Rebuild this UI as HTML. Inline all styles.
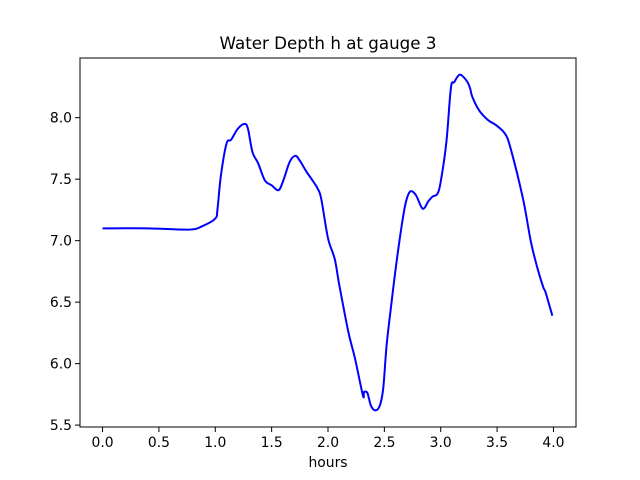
<!DOCTYPE html>
<html><head><meta charset="utf-8"><style>
body{margin:0;background:#fff;}
svg{display:block;font-family:"DejaVu Sans","Liberation Sans",sans-serif;}
</style></head><body>
<svg id="chart" width="640" height="480">
<rect width="640" height="480" fill="#fff"/>
<text x="328" y="49" font-size="16.7" text-anchor="middle">Water Depth h at gauge 3</text>
<g id="xticks"></g>
<g id="yticks"></g>
<path id="line" fill="none" stroke="#0000ff" stroke-width="2" stroke-linejoin="round"/>
<rect x="80" y="58" width="496" height="369" fill="none" stroke="#000" stroke-width="1"/>
<text x="328" y="467" font-size="13.9" text-anchor="middle">hours</text>
</svg>
<script>
const hours=[0,0.4,0.77,0.89,1.0,1.02,1.05,1.10,1.14,1.20,1.26,1.29,1.33,1.38,1.44,1.50,1.56,1.60,1.66,1.71,1.75,1.81,1.87,1.91,1.94,2.00,2.06,2.10,2.18,2.24,2.31,2.32,2.35,2.38,2.42,2.46,2.49,2.52,2.56,2.60,2.65,2.69,2.73,2.78,2.84,2.89,2.93,2.97,3.00,3.05,3.09,3.12,3.17,3.23,3.26,3.28,3.34,3.42,3.49,3.57,3.62,3.73,3.80,3.86,3.91,3.93,3.99];
const depth=[7.10,7.10,7.09,7.12,7.18,7.26,7.53,7.79,7.82,7.91,7.95,7.91,7.72,7.63,7.49,7.45,7.41,7.48,7.64,7.69,7.65,7.56,7.48,7.42,7.34,7.02,6.85,6.64,6.26,6.04,5.74,5.77,5.76,5.66,5.62,5.66,5.80,6.15,6.47,6.77,7.10,7.31,7.40,7.37,7.26,7.32,7.36,7.38,7.48,7.80,8.24,8.29,8.35,8.30,8.24,8.17,8.06,7.98,7.94,7.87,7.75,7.34,6.99,6.77,6.62,6.58,6.39];
const xTicks=[0.0,0.5,1.0,1.5,2.0,2.5,3.0,3.5,4.0];
const yTicks=[5.5,6.0,6.5,7.0,7.5,8.0];
const X0=80,X1=576,Y0=427,Y1=58,xmin=-0.2,xmax=4.2,ymin=5.4845,ymax=8.4855;
const sx=v=>X0+(v-xmin)/(xmax-xmin)*(X1-X0);
const sy=v=>Y0-(v-ymin)/(ymax-ymin)*(Y0-Y1);
const NS="http://www.w3.org/2000/svg";
const xg=document.getElementById('xticks'),yg=document.getElementById('yticks');
xTicks.forEach(t=>{
  const l=document.createElementNS(NS,'line');
  
  
  l.setAttribute('x1',sx(t));l.setAttribute('x2',sx(t));l.setAttribute('y1',Y0);l.setAttribute('y2',Y0+5);l.setAttribute('stroke','#000');
  xg.appendChild(l);
  const tx=document.createElementNS(NS,'text');
  
  
  tx.setAttribute('x',sx(t));tx.setAttribute('y',Y0+20);tx.setAttribute('font-size','13.9');tx.setAttribute('text-anchor','middle');
  tx.textContent=t.toFixed(1);xg.appendChild(tx);
});
yTicks.forEach(t=>{
  const l=document.createElementNS(NS,'line');
  
  
  l.setAttribute('x1',X0-5);l.setAttribute('x2',X0);l.setAttribute('y1',sy(t));l.setAttribute('y2',sy(t));l.setAttribute('stroke','#000');
  yg.appendChild(l);
  const tx=document.createElementNS(NS,'text');
  
  
  tx.setAttribute('x',X0-8);tx.setAttribute('y',sy(t)+5);tx.setAttribute('font-size','13.9');tx.setAttribute('text-anchor','end');
  tx.textContent=t.toFixed(1);yg.appendChild(tx);
});
const P=hours.map((h,i)=>[sx(h),sy(depth[i])]);
let d='M'+P[0][0]+','+P[0][1];
for(let i=0;i<P.length-1;i++){
  const p0=P[i-1]||P[i],p1=P[i],p2=P[i+1],p3=P[i+2]||P[i+1];
  const c1=[p1[0]+(p2[0]-p0[0])/6,p1[1]+(p2[1]-p0[1])/6];
  const c2=[p2[0]-(p3[0]-p1[0])/6,p2[1]-(p3[1]-p1[1])/6];
  d+=' C'+c1[0]+','+c1[1]+' '+c2[0]+','+c2[1]+' '+p2[0]+','+p2[1];
}
document.getElementById('line').setAttribute('d',d);
</script>
</body></html>
